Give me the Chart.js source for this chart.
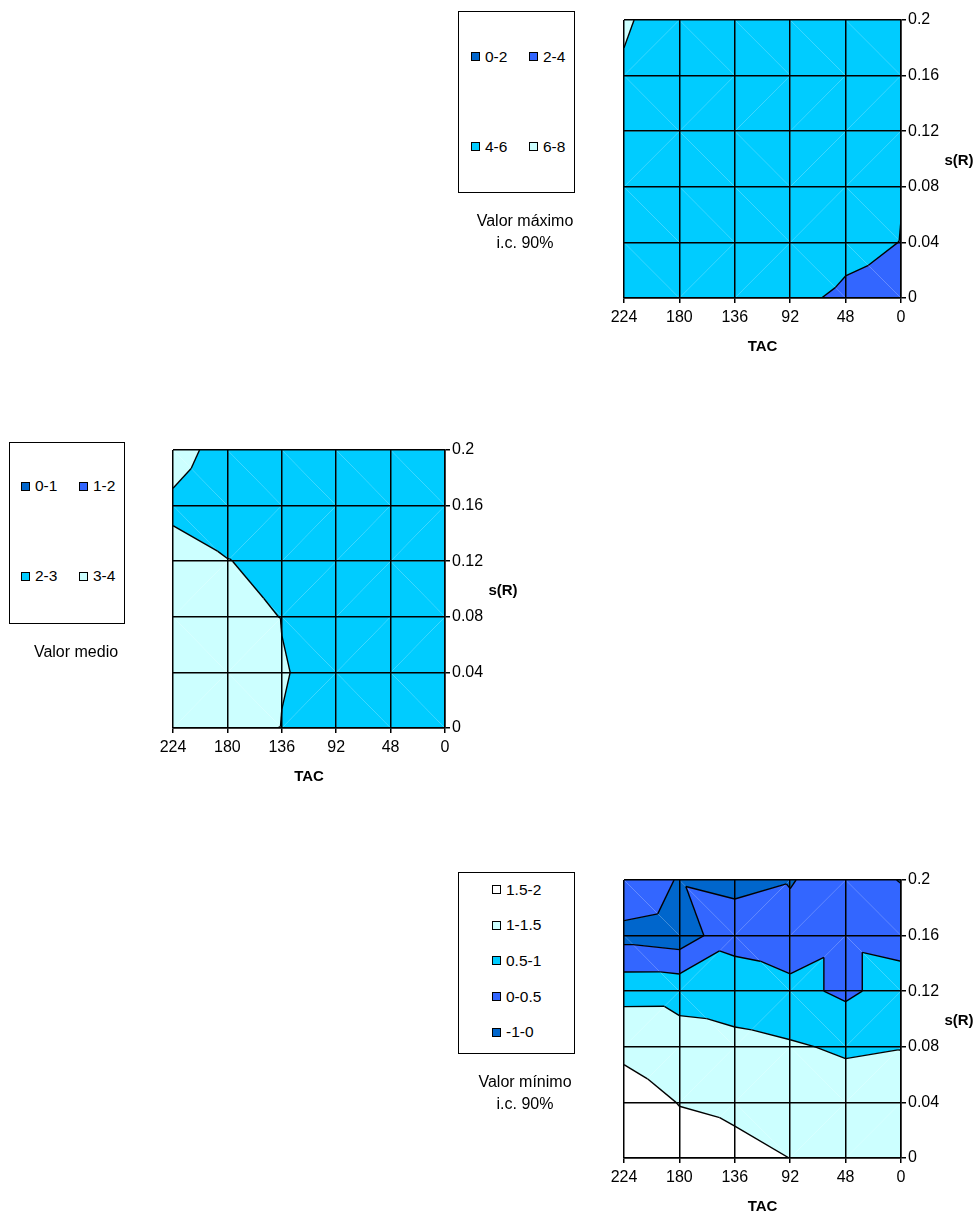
<!DOCTYPE html>
<html>
<head>
<meta charset="utf-8">
<script src="https://cdn.jsdelivr.net/npm/chart.js@4"></script>
<style>
body { margin: 0; background: #fff; font-family: Arial, "Liberation Sans", sans-serif; color: #000; }
#page { position: relative; width: 978px; height: 1215px; overflow: hidden; }
canvas { position: absolute; }
.legend { position: absolute; border: 1px solid #000; background: #fff; box-sizing: border-box; }
.item { position: absolute; height: 18px; display: flex; align-items: center; font-size: 15.5px; white-space: nowrap; }
.swatch { width: 9px; height: 9px; border: 1px solid #000; box-sizing: border-box; margin-right: 5px; }
.caption { position: absolute; width: 160px; text-align: center; font-size: 16px; line-height: 22px; }
</style>
</head>
<body>
<div id="page">
  <canvas id="chartMax" width="382" height="350" style="left:594px;top:8px"></canvas>
  <canvas id="chartMedio" width="377" height="350" style="left:143px;top:438px"></canvas>
  <canvas id="chartMin" width="382" height="350" style="left:594px;top:868px"></canvas>

  <div class="legend" id="legMax" style="left:458px;top:11px;width:117px;height:182px"></div>
  <div class="legend" id="legMedio" style="left:9px;top:442px;width:116px;height:182px"></div>
  <div class="legend" id="legMin" style="left:458px;top:872px;width:117px;height:182px"></div>

  <div class="caption" style="left:445px;top:210px">Valor máximo<br>i.c. 90%</div>
  <div class="caption" style="left:-4px;top:641px">Valor medio</div>
  <div class="caption" style="left:445px;top:1071px">Valor mínimo<br>i.c. 90%</div>
</div>
<script>
// x categories (TAC) and y grid values (s(R))
const tacLabels = ['224', '180', '136', '92', '48', '0'];
const sRTicks = [0, 0.04, 0.08, 0.12, 0.16, 0.2];

// surface values, one row per s(R) value (0 first, 0.2 last), columns follow tacLabels
const maximoRows = [
    [5.0, 4.9, 4.7, 4.3, 3.77, 3.5],
    [5.2, 5.1, 5.0, 5.0, 4.35, 3.98],
    [5.4, 5.3, 5.2, 5.0, 4.6, 4.03],
    [5.6, 5.5, 5.4, 5.2, 5.0, 4.6],
    [5.9, 5.3, 5.4, 5.3, 5.2, 5.0],
    [6.1, 5.55, 5.4, 5.3, 5.2, 5.0]
];
const medioRows = [
    [3.5, 3.12, 2.99, 2.75, 2.55, 2.4],
    [3.5, 3.4, 3.02, 2.89, 2.55, 2.4],
    [3.4, 3.15, 2.99, 2.7, 2.5, 2.4],
    [3.16, 3.02, 2.81, 2.6, 2.45, 2.35],
    [2.91, 2.6, 2.55, 2.45, 2.35, 2.3],
    [3.2, 2.79, 2.6, 2.5, 2.4, 2.3]
];
const minimoRows = [
    [1.8, 1.7, 1.6, 1.498, 1.4, 1.35],
    [1.731, 1.485, 1.425, 1.3, 1.226, 1.2],
    [1.391, 1.186, 1.15, 1.05, 0.939, 0.987],
    [0.85, 0.854, 0.728, 0.658, 0.398, 0.737],
    [-0.165, -0.289, 0.365, 0.148, 0.398, 0.296],
    [0.45, -0.048, -0.19, -0.027, 0.23, -0.02]
];

// band limits and legend labels
const maximoLevels = [0, 2, 4, 6, 8];
const maximoLabels = ['0-2', '2-4', '4-6', '6-8'];
const medioLevels = [0, 1, 2, 3, 4];
const medioLabels = ['0-1', '1-2', '2-3', '3-4'];
const minimoLevels = [-1, 0, 0.5, 1, 1.5, 2];
const minimoLabels = ['-1-0', '0-0.5', '0.5-1', '1-1.5', '1.5-2'];

const bandColors = ['#0066CC', '#3366FF', '#00CCFF', '#CCFFFF', '#FFFFFF'];
const FONT = 'Arial, "Liberation Sans", sans-serif';

// split every grid cell in two triangles, along the diagonal with the higher end values
function buildTriangles(rows) {
    const tris = [];
    const node = (c, j) => ({ c: c, s: sRTicks[j], v: rows[j][c] });
    for (let j = 0; j < sRTicks.length - 1; j++) {
        for (let c = 0; c < tacLabels.length - 1; c++) {
            const tl = node(c, j + 1), tr = node(c + 1, j + 1);
            const bl = node(c, j), br = node(c + 1, j);
            if (tl.v + br.v >= bl.v + tr.v) {
                tris.push([tl, tr, br], [tl, bl, br]);
            } else {
                tris.push([tl, tr, bl], [bl, br, tr]);
            }
        }
    }
    return tris;
}

function clipPoly(poly, level, keepAbove) {
    const out = [];
    for (let i = 0; i < poly.length; i++) {
        const a = poly[i], b = poly[(i + 1) % poly.length];
        const inA = keepAbove ? a.v >= level : a.v <= level;
        const inB = keepAbove ? b.v >= level : b.v <= level;
        if (inA) out.push(a);
        if (inA !== inB) {
            const t = (level - a.v) / (b.v - a.v);
            out.push({ c: a.c + t * (b.c - a.c), s: a.s + t * (b.s - a.s), v: level });
        }
    }
    return out;
}

const contourPlugin = {
    id: 'contour',
    beforeDatasetsDraw(chart, args, opts) {
        const ctx = chart.ctx;
        const xs = chart.scales.x, ys = chart.scales.y;
        const area = chart.chartArea;
        const tris = buildTriangles(opts.rows);
        const levels = opts.levels;
        const toPx = p => [xs.getPixelForValue(p.c), ys.getPixelForValue(p.s)];

        ctx.save();
        ctx.beginPath();
        ctx.rect(area.left, area.top, area.right - area.left, area.bottom - area.top);
        ctx.clip();

        // filled bands
        tris.forEach(tri => {
            for (let b = 0; b < levels.length - 1; b++) {
                let poly = clipPoly(tri, levels[b], true);
                poly = clipPoly(poly, levels[b + 1], false);
                if (poly.length < 3) continue;
                ctx.beginPath();
                poly.forEach((p, i) => {
                    const [x, y] = toPx(p);
                    if (i === 0) ctx.moveTo(x, y); else ctx.lineTo(x, y);
                });
                ctx.closePath();
                ctx.fillStyle = bandColors[b];
                ctx.fill();
            }
        });

        // contour lines on the inner band limits
        ctx.strokeStyle = '#000';
        ctx.lineWidth = 1.4;
        ctx.lineJoin = 'round';
        levels.slice(1, -1).forEach(level => {
            tris.forEach(tri => {
                const pts = [];
                for (let i = 0; i < 3; i++) {
                    const a = tri[i], b = tri[(i + 1) % 3];
                    if ((a.v >= level) !== (b.v >= level)) {
                        const t = (level - a.v) / (b.v - a.v);
                        pts.push({ c: a.c + t * (b.c - a.c), s: a.s + t * (b.s - a.s) });
                    }
                }
                if (pts.length === 2) {
                    const [x1, y1] = toPx(pts[0]);
                    const [x2, y2] = toPx(pts[1]);
                    ctx.beginPath();
                    ctx.moveTo(x1, y1);
                    ctx.lineTo(x2, y2);
                    ctx.stroke();
                }
            });
        });
        ctx.restore();
    }
};

// horizontal s(R) title at the right of the value axis
const sRTitlePlugin = {
    id: 'sRTitle',
    afterDraw(chart) {
        const ctx = chart.ctx, a = chart.chartArea;
        ctx.save();
        ctx.fillStyle = '#000';
        ctx.font = 'bold 15px ' + FONT;
        ctx.textAlign = 'center';
        ctx.textBaseline = 'middle';
        ctx.fillText('s(R)', a.right + 58, (a.top + a.bottom) / 2 + 2);
        ctx.restore();
    }
};

function makeChart(id, rows, levels) {
    const gridStyle = { color: '#000', lineWidth: 1.5, z: 1, tickLength: 5, tickColor: '#000' };
    return new Chart(document.getElementById(id), {
        type: 'scatter',
        data: { labels: tacLabels, datasets: [] },
        options: {
            responsive: false,
            animation: false,
            events: [],
            layout: { padding: { left: 30, top: 12, right: 0, bottom: 0 } },
            plugins: {
                legend: { display: false },
                tooltip: { enabled: false },
                contour: { rows: rows, levels: levels }
            },
            scales: {
                x: {
                    type: 'category',
                    labels: tacLabels,
                    offset: false,
                    grid: Object.assign({ offset: false }, gridStyle),
                    border: { color: '#000', width: 1.5, z: 1 },
                    ticks: { color: '#000', font: { family: FONT, size: 16 }, padding: 5, maxRotation: 0, autoSkip: false },
                    title: { display: true, text: 'TAC', color: '#000', font: { family: FONT, size: 15, weight: 'bold' }, padding: { top: 0, bottom: 2 } },
                    afterFit: s => { s.height = 60; }
                },
                y: {
                    type: 'linear',
                    position: 'right',
                    min: 0,
                    max: 0.2,
                    grid: gridStyle,
                    border: { color: '#000', width: 1.5, z: 1 },
                    afterBuildTicks: s => { s.ticks = sRTicks.map(v => ({ value: v })); },
                    ticks: {
                        color: '#000',
                        font: { family: FONT, size: 16 },
                        padding: 2,
                        callback: v => String(Math.round(v * 100) / 100)
                    },
                    afterFit: s => { s.width = 75; }
                }
            }
        },
        plugins: [contourPlugin, sRTitlePlugin]
    });
}

// legend boxes: positions are page coordinates of each swatch (left, centre y)
function makeLegend(boxId, labels, places) {
    const box = document.getElementById(boxId);
    const r = box.getBoundingClientRect();
    labels.forEach((label, i) => {
        const item = document.createElement('div');
        item.className = 'item';
        item.style.left = (places[i][0] - r.left - 1) + 'px';
        item.style.top = (places[i][1] - r.top - 1 - 9) + 'px';
        const sw = document.createElement('div');
        sw.className = 'swatch';
        sw.style.background = bandColors[i];
        const txt = document.createElement('span');
        txt.textContent = label;
        item.appendChild(sw);
        item.appendChild(txt);
        box.appendChild(item);
    });
}

document.addEventListener('DOMContentLoaded', function() {
    makeChart('chartMax', maximoRows, maximoLevels);
    makeChart('chartMedio', medioRows, medioLevels);
    makeChart('chartMin', minimoRows, minimoLevels);

    makeLegend('legMax', maximoLabels, [[471, 56.5], [529, 56.5], [471, 146.5], [529, 146.5]]);
    makeLegend('legMedio', medioLabels, [[21, 486], [79, 486], [21, 576], [79, 576]]);
    // the minimum legend is listed from the top band down
    makeLegend('legMin', minimoLabels, [[492, 1032.3], [492, 996.6], [492, 960.9], [492, 925.2], [492, 889.5]]);
});
</script>
</body>
</html>
